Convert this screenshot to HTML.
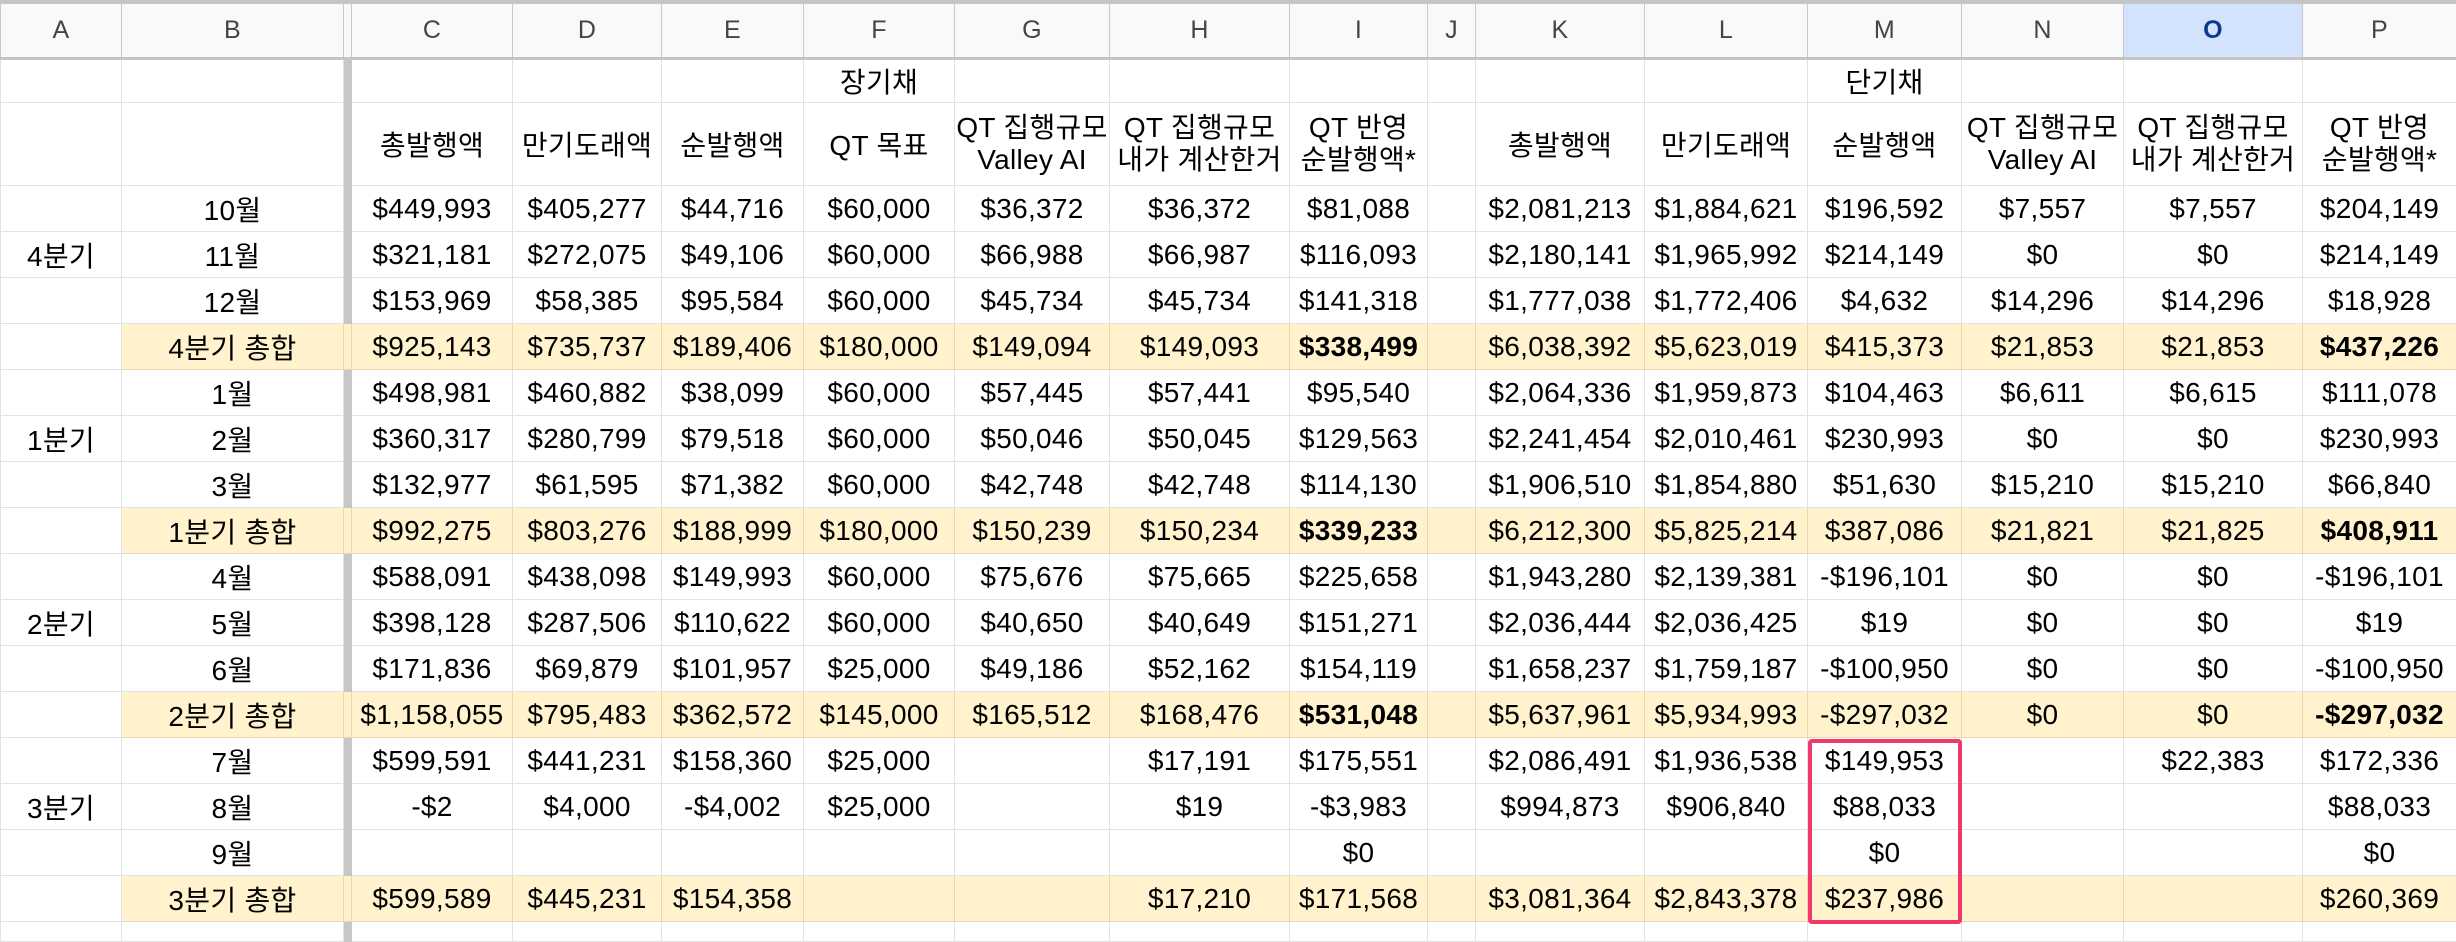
<!DOCTYPE html>
<html><head><meta charset="utf-8"><style>
html,body{margin:0;padding:0;background:#fff;width:2456px;height:928px;overflow:hidden}
table{border-collapse:collapse;table-layout:fixed;width:2456px;font-family:"Liberation Sans","Noto Sans CJK KR",sans-serif;font-size:28px;color:#000;position:absolute;left:0;top:3px}
td{border:1px solid #e2e2e2;text-align:center;vertical-align:middle;padding:0 1px;white-space:nowrap;overflow:hidden;letter-spacing:0.3px}
tr.h td{background:#f8f9fa;color:#444;font-size:25px;border-color:#c8c8c8;border-bottom:3px solid #c4c4c4}
tr.h td.sel{background:#d3e3fd;color:#0b3a8c;font-weight:bold}
td.fz{background:#c7c7c7;border-color:#c7c7c7;padding:0}
tr.t td{background:#fff2cc;border-color:#e6d9ad}
tr.t td.a{background:#fff;border-color:#e2e2e2}
.hd{line-height:32px;white-space:normal}
b{font-weight:bold}
#box{position:absolute;left:1808px;top:739px;width:146px;height:177px;border:4px solid #f0386b;border-radius:4px}
#top{position:absolute;left:0;top:0;width:2456px;height:3px;background:#c4c4c4}
</style></head><body>
<div id="top"></div>
<table>
<colgroup><col style="width:121px"><col style="width:222px"><col style="width:8px"><col style="width:161px"><col style="width:149px"><col style="width:142px"><col style="width:151px"><col style="width:155px"><col style="width:180px"><col style="width:138px"><col style="width:48px"><col style="width:169px"><col style="width:163px"><col style="width:154px"><col style="width:162px"><col style="width:179px"><col style="width:154px"></colgroup>
<tr class="h" style="height:55px"><td>A</td><td>B</td><td class="fz"></td><td>C</td><td>D</td><td>E</td><td>F</td><td>G</td><td>H</td><td>I</td><td>J</td><td>K</td><td>L</td><td>M</td><td>N</td><td class="sel">O</td><td>P</td></tr>
<tr style="height:44px"><td></td><td></td><td class="fz"></td><td></td><td></td><td></td><td>장기채</td><td></td><td></td><td></td><td></td><td></td><td></td><td>단기채</td><td></td><td></td><td></td></tr>
<tr style="height:83px"><td></td><td></td><td class="fz"></td><td>총발행액</td><td>만기도래액</td><td>순발행액</td><td>QT 목표</td><td class="hd">QT 집행규모<br>Valley AI</td><td class="hd">QT 집행규모<br>내가 계산한거</td><td class="hd">QT 반영<br>순발행액*</td><td></td><td>총발행액</td><td>만기도래액</td><td>순발행액</td><td class="hd">QT 집행규모<br>Valley AI</td><td class="hd">QT 집행규모<br>내가 계산한거</td><td class="hd">QT 반영<br>순발행액*</td></tr>
<tr style="height:46px"><td></td><td>10월</td><td class="fz"></td><td>$449,993</td><td>$405,277</td><td>$44,716</td><td>$60,000</td><td>$36,372</td><td>$36,372</td><td>$81,088</td><td></td><td>$2,081,213</td><td>$1,884,621</td><td>$196,592</td><td>$7,557</td><td>$7,557</td><td>$204,149</td></tr>
<tr style="height:46px"><td>4분기</td><td>11월</td><td class="fz"></td><td>$321,181</td><td>$272,075</td><td>$49,106</td><td>$60,000</td><td>$66,988</td><td>$66,987</td><td>$116,093</td><td></td><td>$2,180,141</td><td>$1,965,992</td><td>$214,149</td><td>$0</td><td>$0</td><td>$214,149</td></tr>
<tr style="height:46px"><td></td><td>12월</td><td class="fz"></td><td>$153,969</td><td>$58,385</td><td>$95,584</td><td>$60,000</td><td>$45,734</td><td>$45,734</td><td>$141,318</td><td></td><td>$1,777,038</td><td>$1,772,406</td><td>$4,632</td><td>$14,296</td><td>$14,296</td><td>$18,928</td></tr>
<tr class="t" style="height:46px"><td class="a"></td><td>4분기 총합</td><td class="fz"></td><td>$925,143</td><td>$735,737</td><td>$189,406</td><td>$180,000</td><td>$149,094</td><td>$149,093</td><td><b>$338,499</b></td><td></td><td>$6,038,392</td><td>$5,623,019</td><td>$415,373</td><td>$21,853</td><td>$21,853</td><td><b>$437,226</b></td></tr>
<tr style="height:46px"><td></td><td>1월</td><td class="fz"></td><td>$498,981</td><td>$460,882</td><td>$38,099</td><td>$60,000</td><td>$57,445</td><td>$57,441</td><td>$95,540</td><td></td><td>$2,064,336</td><td>$1,959,873</td><td>$104,463</td><td>$6,611</td><td>$6,615</td><td>$111,078</td></tr>
<tr style="height:46px"><td>1분기</td><td>2월</td><td class="fz"></td><td>$360,317</td><td>$280,799</td><td>$79,518</td><td>$60,000</td><td>$50,046</td><td>$50,045</td><td>$129,563</td><td></td><td>$2,241,454</td><td>$2,010,461</td><td>$230,993</td><td>$0</td><td>$0</td><td>$230,993</td></tr>
<tr style="height:46px"><td></td><td>3월</td><td class="fz"></td><td>$132,977</td><td>$61,595</td><td>$71,382</td><td>$60,000</td><td>$42,748</td><td>$42,748</td><td>$114,130</td><td></td><td>$1,906,510</td><td>$1,854,880</td><td>$51,630</td><td>$15,210</td><td>$15,210</td><td>$66,840</td></tr>
<tr class="t" style="height:46px"><td class="a"></td><td>1분기 총합</td><td class="fz"></td><td>$992,275</td><td>$803,276</td><td>$188,999</td><td>$180,000</td><td>$150,239</td><td>$150,234</td><td><b>$339,233</b></td><td></td><td>$6,212,300</td><td>$5,825,214</td><td>$387,086</td><td>$21,821</td><td>$21,825</td><td><b>$408,911</b></td></tr>
<tr style="height:46px"><td></td><td>4월</td><td class="fz"></td><td>$588,091</td><td>$438,098</td><td>$149,993</td><td>$60,000</td><td>$75,676</td><td>$75,665</td><td>$225,658</td><td></td><td>$1,943,280</td><td>$2,139,381</td><td>-$196,101</td><td>$0</td><td>$0</td><td>-$196,101</td></tr>
<tr style="height:46px"><td>2분기</td><td>5월</td><td class="fz"></td><td>$398,128</td><td>$287,506</td><td>$110,622</td><td>$60,000</td><td>$40,650</td><td>$40,649</td><td>$151,271</td><td></td><td>$2,036,444</td><td>$2,036,425</td><td>$19</td><td>$0</td><td>$0</td><td>$19</td></tr>
<tr style="height:46px"><td></td><td>6월</td><td class="fz"></td><td>$171,836</td><td>$69,879</td><td>$101,957</td><td>$25,000</td><td>$49,186</td><td>$52,162</td><td>$154,119</td><td></td><td>$1,658,237</td><td>$1,759,187</td><td>-$100,950</td><td>$0</td><td>$0</td><td>-$100,950</td></tr>
<tr class="t" style="height:46px"><td class="a"></td><td>2분기 총합</td><td class="fz"></td><td>$1,158,055</td><td>$795,483</td><td>$362,572</td><td>$145,000</td><td>$165,512</td><td>$168,476</td><td><b>$531,048</b></td><td></td><td>$5,637,961</td><td>$5,934,993</td><td>-$297,032</td><td>$0</td><td>$0</td><td><b>-$297,032</b></td></tr>
<tr style="height:46px"><td></td><td>7월</td><td class="fz"></td><td>$599,591</td><td>$441,231</td><td>$158,360</td><td>$25,000</td><td></td><td>$17,191</td><td>$175,551</td><td></td><td>$2,086,491</td><td>$1,936,538</td><td>$149,953</td><td></td><td>$22,383</td><td>$172,336</td></tr>
<tr style="height:46px"><td>3분기</td><td>8월</td><td class="fz"></td><td>-$2</td><td>$4,000</td><td>-$4,002</td><td>$25,000</td><td></td><td>$19</td><td>-$3,983</td><td></td><td>$994,873</td><td>$906,840</td><td>$88,033</td><td></td><td></td><td>$88,033</td></tr>
<tr style="height:46px"><td></td><td>9월</td><td class="fz"></td><td></td><td></td><td></td><td></td><td></td><td></td><td>$0</td><td></td><td></td><td></td><td>$0</td><td></td><td></td><td>$0</td></tr>
<tr class="t" style="height:46px"><td class="a"></td><td>3분기 총합</td><td class="fz"></td><td>$599,589</td><td>$445,231</td><td>$154,358</td><td></td><td></td><td>$17,210</td><td>$171,568</td><td></td><td>$3,081,364</td><td>$2,843,378</td><td>$237,986</td><td></td><td></td><td>$260,369</td></tr>
<tr style="height:20px"><td></td><td></td><td class="fz"></td><td></td><td></td><td></td><td></td><td></td><td></td><td></td><td></td><td></td><td></td><td></td><td></td><td></td><td></td></tr>
</table>
<div id="box"></div>
</body></html>
